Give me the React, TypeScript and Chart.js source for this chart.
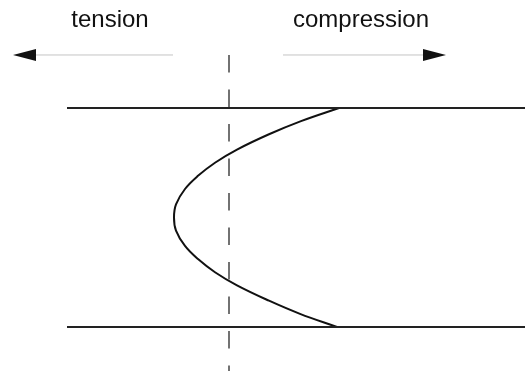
import React, { useEffect, useRef } from "react";
import { Chart, registerables } from "chart.js";

Chart.register(...registerables);

// Axis ranges (stress on x, depth through thickness on y; 0 = top surface, 100 = bottom surface)
const stressRange = [-229, 296];
const depthRange = [-49.3, 120.1];

// Stress profile through the thickness (parabola)
const profileDepth = [0, 6, 12, 19, 25, 31, 37, 44, 50, 56, 63, 69, 75, 81, 88, 94, 100];
const profileStress = [110, 72, 40, 8, -14, -31, -44, -53, -55, -53, -44, -31, -14, 8, 40, 71, 108];

// Surfaces of the plate
const surfaceDepths = [0, 100];
const surfaceStressExtent = [-162, 296];

// Zero-stress reference line
const zeroStress = 0;
const zeroLineDepthExtent = [-24.2, 120.1];

// Arrows: [shaft start, tip] in stress units, at a depth level
const arrowDepth = -24.2;
const tensionArrow = [-56, -216];
const compressionArrow = [54, 217];

// Labels
const labelTexts = ["tension", "compression"];
const labelStress = [-119, 132];
const labelDepth = -37;

const overlayPlugin = {
  id: "overlay",
  afterDatasetsDraw(chart: any) {
    const { ctx, scales } = chart;
    const xs = scales.x;
    const ys = scales.y;
    ctx.save();
    const drawHead = (from: number, tip: number) => {
      const tx = xs.getPixelForValue(tip);
      const fx = xs.getPixelForValue(from);
      const y = ys.getPixelForValue(arrowDepth);
      const dir = Math.sign(tx - fx);
      const len = 23;
      const half = 6;
      ctx.beginPath();
      ctx.moveTo(tx, y);
      ctx.lineTo(tx - dir * len, y - half);
      ctx.lineTo(tx - dir * len, y + half);
      ctx.closePath();
      ctx.fillStyle = "#111";
      ctx.fill();
    };
    drawHead(tensionArrow[0], tensionArrow[1]);
    drawHead(compressionArrow[0], compressionArrow[1]);
    ctx.fillStyle = "#111";
    ctx.font = "24px 'Liberation Sans', Arial, sans-serif";
    ctx.textAlign = "center";
    ctx.textBaseline = "alphabetic";
    labelTexts.forEach((t, i) => {
      ctx.fillText(t, xs.getPixelForValue(labelStress[i]), ys.getPixelForValue(labelDepth));
    });
    ctx.restore();
  },
};

export default function App() {
  const ref = useRef<HTMLCanvasElement | null>(null);
  useEffect(() => {
    document.body.style.margin = "0";
    if (!ref.current) return;
    const shaftEnd = (a: number[]) => a[1] - Math.sign(a[1] - a[0]) * 23;
    const chart = new Chart(ref.current, {
      type: "scatter",
      data: {
        datasets: [
          ...surfaceDepths.map((d) => ({
            data: surfaceStressExtent.map((s) => ({ x: s, y: d })),
            showLine: true,
            borderColor: "#222",
            borderWidth: 2,
            pointRadius: 0,
          })),
          {
            data: zeroLineDepthExtent.map((d) => ({ x: zeroStress, y: d })),
            showLine: true,
            borderColor: "#444",
            borderWidth: 1.5,
            borderDash: [17.5, 17],
            pointRadius: 0,
          },
          {
            data: profileDepth.map((d, i) => ({ x: profileStress[i], y: d })),
            showLine: true,
            borderColor: "#111",
            borderWidth: 2,
            tension: 0.4,
            pointRadius: 0,
          },
          ...[tensionArrow, compressionArrow].map((a) => ({
            data: [
              { x: a[0], y: arrowDepth },
              { x: shaftEnd(a), y: arrowDepth },
            ],
            showLine: true,
            borderColor: "#c4c4c4",
            borderWidth: 1,
            pointRadius: 0,
          })),
        ],
      },
      options: {
        animation: false,
        responsive: false,
        layout: { padding: 0 },
        plugins: { legend: { display: false }, tooltip: { enabled: false } },
        scales: {
          x: { type: "linear", min: stressRange[0], max: stressRange[1], display: false },
          y: { type: "linear", min: depthRange[0], max: depthRange[1], reverse: true, display: false },
        },
      },
      plugins: [overlayPlugin],
    });
    return () => chart.destroy();
  }, []);
  return (
    <canvas ref={ref} width={525} height={371} style={{ display: "block", width: 525, height: 371 }} />
  );
}
